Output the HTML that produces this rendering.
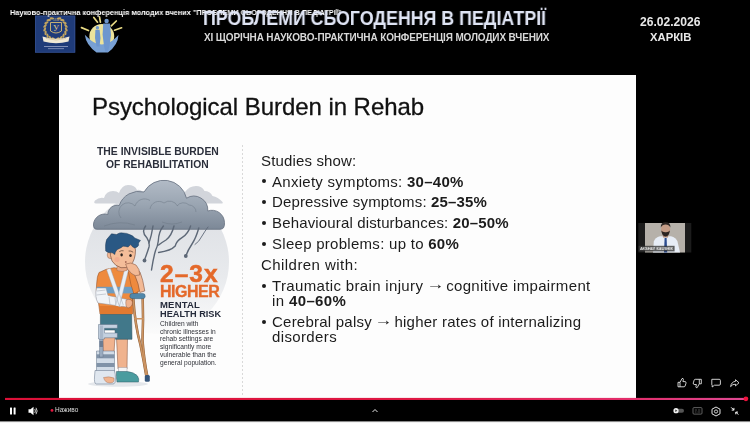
<!DOCTYPE html>
<html>
<head>
<meta charset="utf-8">
<style>
html,body{margin:0;padding:0;}
body{width:750px;height:423px;background:#000;position:relative;overflow:hidden;font-family:"Liberation Sans",sans-serif;}
.a{position:absolute;white-space:nowrap;line-height:1;will-change:transform;}
#slide{position:absolute;left:59px;top:75px;width:577px;height:323px;background:#fdfdfd;}
.li{position:absolute;white-space:nowrap;line-height:1;will-change:transform;font-size:15px;letter-spacing:0.15px;color:#1c1c1c;}
.li b{font-weight:bold;}
.bu{position:absolute;width:4px;height:4px;border-radius:50%;background:#1c1c1c;left:262px;}
svg{position:absolute;left:0;top:0;}
</style>
</head>
<body>
<div id="slide"></div>
<svg width="750" height="423" viewBox="0 0 750 423">
<defs>
<linearGradient id="cg" x1="0" y1="0" x2="0" y2="1"><stop offset="0" stop-color="#b2bbc6"/><stop offset="0.5" stop-color="#9aa5b2"/><stop offset="1" stop-color="#7c8897"/></linearGradient>
<radialGradient id="bgc" cx="0.5" cy="0.25" r="0.75"><stop offset="0" stop-color="#d9dce1"/><stop offset="0.7" stop-color="#e6e8eb"/><stop offset="1" stop-color="#f6f7f8"/></radialGradient>
<linearGradient id="bgl" x1="0" y1="0" x2="0" y2="1"><stop offset="0" stop-color="#dadde2"/><stop offset="0.6" stop-color="#e8eaed"/><stop offset="1" stop-color="#fbfbfb"/></linearGradient>
<linearGradient id="pb" x1="0" y1="0" x2="1" y2="0"><stop offset="0" stop-color="#dc1038"/><stop offset="0.55" stop-color="#df1844"/><stop offset="0.85" stop-color="#e32e6c"/><stop offset="1" stop-color="#df4a94"/></linearGradient>
</defs>
<!-- logo 1 -->
<rect x="35" y="15.5" width="40.3" height="37.2" fill="#1f3b79"/>
<rect x="35.5" y="16" width="39.3" height="36.2" fill="none" stroke="#3a5594" stroke-width="0.6"/>
<g fill="#c0a35f"><ellipse cx="53.62" cy="39.14" rx="2.3" ry="1.1" transform="rotate(220.0 53.62 39.14)"/><ellipse cx="50.31" cy="37.97" rx="2.3" ry="1.1" transform="rotate(238.8 50.31 37.97)"/><ellipse cx="47.54" cy="35.80" rx="2.3" ry="1.1" transform="rotate(257.5 47.54 35.80)"/><ellipse cx="45.61" cy="32.85" rx="2.3" ry="1.1" transform="rotate(276.2 45.61 32.85)"/><ellipse cx="44.74" cy="29.44" rx="2.3" ry="1.1" transform="rotate(295.0 44.74 29.44)"/><ellipse cx="45.01" cy="25.93" rx="2.3" ry="1.1" transform="rotate(313.8 45.01 25.93)"/><ellipse cx="46.39" cy="22.70" rx="2.3" ry="1.1" transform="rotate(332.5 46.39 22.70)"/><ellipse cx="48.74" cy="20.08" rx="2.3" ry="1.1" transform="rotate(351.2 48.74 20.08)"/><ellipse cx="51.81" cy="18.35" rx="2.3" ry="1.1" transform="rotate(370.0 51.81 18.35)"/><ellipse cx="57.38" cy="39.14" rx="2.3" ry="1.1" transform="rotate(-40.0 57.38 39.14)"/><ellipse cx="60.69" cy="37.97" rx="2.3" ry="1.1" transform="rotate(-58.7 60.69 37.97)"/><ellipse cx="63.46" cy="35.80" rx="2.3" ry="1.1" transform="rotate(-77.5 63.46 35.80)"/><ellipse cx="65.39" cy="32.85" rx="2.3" ry="1.1" transform="rotate(-96.2 65.39 32.85)"/><ellipse cx="66.26" cy="29.44" rx="2.3" ry="1.1" transform="rotate(-115.0 66.26 29.44)"/><ellipse cx="65.99" cy="25.93" rx="2.3" ry="1.1" transform="rotate(-133.8 65.99 25.93)"/><ellipse cx="64.61" cy="22.70" rx="2.3" ry="1.1" transform="rotate(-152.5 64.61 22.70)"/><ellipse cx="62.26" cy="20.08" rx="2.3" ry="1.1" transform="rotate(-171.3 62.26 20.08)"/><ellipse cx="59.19" cy="18.35" rx="2.3" ry="1.1" transform="rotate(-190.0 59.19 18.35)"/></g>
<path d="M50.5 22.5 L61.5 22.5 L61.5 31 Q56 35 50.5 31Z" fill="#223f7f" stroke="#d8bb72" stroke-width="0.9"/>
<text x="56" y="30.8" font-family="Liberation Serif" font-size="8.5" fill="#e4cd86" text-anchor="middle">У</text>
<text x="56" y="20.5" font-family="Liberation Sans" font-size="2.6" fill="#d8bb72" text-anchor="middle">1834</text>
<path d="M42.5 36.5 Q56 41 69.5 36.5 L68.5 41.5 Q56 45 43.5 41.5 Z" fill="#f1e9d6"/>
<path d="M46 38.5 Q56 41.5 66 38.5" stroke="#c9b27a" stroke-width="0.5" fill="none"/>
<rect x="44" y="46" width="24" height="0.9" fill="#8d9ac0"/>
<rect x="48" y="48.3" width="16" height="0.8" fill="#8d9ac0"/>
<!-- logo 2 -->
<g stroke="#e8da84" stroke-width="1.7" stroke-linecap="round">
<line x1="81.5" y1="27.6" x2="88.5" y2="30.5"/><line x1="93.8" y1="17.4" x2="97.5" y2="22.2"/><line x1="99.5" y1="16.8" x2="100.4" y2="22.2"/><line x1="116.3" y1="21" x2="111.3" y2="25.8"/><line x1="121.6" y1="27.8" x2="114.5" y2="30.2"/>
</g>
<circle cx="101.8" cy="36.3" r="12.4" fill="#ece39c"/>
<path d="M84.8 34.8 Q86 45 96.5 52.5 L108 52.5 Q118 45 118.5 35 Q115 38.5 112.5 40.5 Q108 44 101.8 44.5 Q95.5 44 91 40.5 Q87.5 37.5 84.8 34.8Z" fill="#78a0d4"/>
<circle cx="106.6" cy="21" r="2.2" fill="#6d96cf"/>
<path d="M103.2 23.6 L110 23.6 L111 35 L109.5 46 L108 51.6 L105.2 51.6 L104 46 L102.6 35Z" fill="#6d96cf"/>
<circle cx="97.4" cy="27.7" r="1.7" fill="#6d96cf"/>
<path d="M95.4 29.7 L99.6 29.7 L100.5 38 L99.5 46.4 L96.5 46.4 L95 38Z" fill="#6d96cf"/>

<!-- infographic background circle -->
<circle cx="157" cy="262" r="72" fill="url(#bgl)"/>
<!-- back clouds -->
<g fill="#d2d5db">
<path d="M96 203.5 Q93 203.5 95 200.5 Q99 197 104 198 Q106 191 113 191 Q117 191 119 193 Q122 185 128 185 Q135 185 137 190 Q141 189 143 193 L143 203.5Z"/>
<path d="M185 203.5 L185 192 Q189 186 196 186 Q202 186 204.5 191 Q210 191 212.5 196 Q218 197 222.5 202 Q223.5 203.5 221 203.5Z"/>
</g>
<!-- main cloud -->
<path d="M97 229.3 Q93 229.3 93.5 224 A11.2 11.2 0 0 1 107.8 214.5 A9.3 9.3 0 0 1 119.2 205.5 A20.8 20.8 0 0 1 144 192 A23 23 0 0 1 186.5 198.2 A14 14 0 0 1 207.8 211 A12.5 12.5 0 0 1 224.5 222.5 Q225 229.3 220 229.3 Z" fill="url(#cg)" stroke="#5f6a79" stroke-width="0.75"/>
<g fill="none" stroke="#6f7a88" stroke-width="0.6" opacity="0.85">
<path d="M121 218 A9 9 0 0 1 135 206 A10 10 0 0 1 150 200.5"/>
<path d="M150 209 A9 9 0 0 1 164 203 A9 9 0 0 1 177.5 206"/>
<path d="M177 206 A8 8 0 0 1 189 205 A7 7 0 0 1 196 212"/>
<path d="M104 226 Q120 220 135 225"/>
<path d="M162 222 Q172 226 182 222"/>
</g>
<!-- rain lines -->
<g fill="none" stroke="#5d6877" stroke-width="1.4" stroke-linecap="round" stroke-linejoin="round">
<path d="M145.6 226 Q141 232 146.8 237.7 Q150 243 149 247 Q147.5 252 144.5 260"/>
<path d="M153 226 Q151.5 236 149 243"/>
<path d="M163.4 226 Q158.5 232 158.3 241 Q157.5 247 155.7 250 Q153.5 257 151.5 270"/>
<path d="M174 226 Q171.5 236 166 240 Q161 243 158.6 245"/>
<path d="M190.6 226 Q188 234 182 237.7 Q176.5 241 175.2 246 Q171 250.7 158.6 252.5"/>
<path d="M198.8 228 Q196 238 192 244 Q188 250 185.8 256"/>
<path d="M208 227 Q205 231 202 236 Q199 242 195 244.5" stroke-width="0.9"/>
</g>
<g fill="#5d6877"><circle cx="144.5" cy="260.5" r="1.9"/><circle cx="185.8" cy="256" r="1.9"/></g>

<!-- boy -->
<ellipse cx="118" cy="384" rx="30" ry="2.8" fill="#e4e7eb"/>
<!-- crutch -->
<g stroke="#8a5a33" stroke-width="2.5" fill="none" stroke-linecap="round">
<path d="M133.3 298.6 Q135 325 140.5 345 Q144 362 146.3 376"/>
<path d="M142.7 298.6 Q143.5 320 142.5 340 Q144 360 147.3 376"/>
</g>
<g stroke="#cc9462" stroke-width="1.6" fill="none" stroke-linecap="round">
<path d="M133.3 298.6 Q135 325 140.5 345 Q144 362 146.3 376"/>
<path d="M142.7 298.6 Q143.5 320 142.5 340 Q144 360 147.3 376"/>
<path d="M134.6 318.7 L143.2 318.7"/>
</g>
<rect x="144.8" y="375" width="5" height="6.8" rx="1.5" fill="#35557a"/>
<!-- legs -->
<path d="M116.5 338 L127.5 338 L127 369 L118 369 Z" fill="#f0b38e" stroke="#7a4a36" stroke-width="0.5"/>
<path d="M102.5 337 L115 337 L114 353 L103.5 353 Z" fill="#f0b38e" stroke="#7a4a36" stroke-width="0.5"/>
<!-- sock & shoe -->
<rect x="118.2" y="367.5" width="8.8" height="5.5" fill="#f4f5f7" stroke="#8a8f99" stroke-width="0.4"/>
<path d="M116.5 371.5 L127 371.5 Q134 372 137.5 376 Q139.5 379 138.5 382 L117 382 Q115.8 376 116.5 371.5Z" fill="#4a9c9f" stroke="#2f5a66" stroke-width="0.5"/>
<!-- brace -->
<path d="M96.5 351 L114.5 351 L114.5 373 L96.5 373 Z" fill="#d2dce7" stroke="#5e6f85" stroke-width="0.5"/>
<rect x="96.5" y="354.3" width="18" height="4" fill="#8193a8"/>
<rect x="96.5" y="363" width="18" height="4" fill="#8193a8"/>
<path d="M95 370.5 L114.5 370.5 Q115.5 374 115.5 379 Q115.5 384 113 384 L96 384 Q94 383 94.5 377 Z" fill="#e0e7ef" stroke="#5e6f85" stroke-width="0.5"/>
<path d="M103.5 377.5 Q109 376 114 378 Q115 383 110 383 Q105 383 103.5 377.5Z" fill="#f0b38e" stroke="#7a4a36" stroke-width="0.3"/>
<rect x="99.5" y="337" width="3.5" height="20" fill="#9aabbf" stroke="#5e6f85" stroke-width="0.4"/>
<rect x="99.5" y="341" width="3.5" height="6" fill="#6b7d93"/>
<!-- shorts -->
<path d="M100.4 313 L131.6 313 L132 339.3 L115.6 339.3 L115 330 L100.4 330 Z" fill="#41788a" stroke="#2d4d5c" stroke-width="0.5"/>
<!-- brace upper cuff -->
<g fill="#c4d1e0" stroke="#56677d" stroke-width="0.45">
<path d="M98.5 324.5 L117.4 324.5 L117.4 328.3 L104.5 328.3 L104.5 333 L117.4 333 L117.4 337.8 L104.5 337.8 L104.5 339 L98.5 339 Z"/>
</g>
<rect x="99.8" y="325.5" width="3.4" height="12.5" fill="#a9b8ca"/>
<!-- shirt -->
<path d="M99 272.5 Q106 268.5 114 267.7 L127 269.5 Q131 271 133 275 L138 285 L138 293 L132.5 298 L132.5 314 L100 314 L98.5 303 Q95.5 296 96.6 284 Q97 276 99 272.5Z" fill="#ee8a3e" stroke="#8a4a22" stroke-width="0.5"/>
<rect x="97" y="286.8" width="36" height="6.6" fill="#6d9dc2"/>
<rect x="100" y="306" width="32.5" height="8" fill="#e17a30"/>
<!-- right arm (upper) -->
<path d="M128 270 Q135 272 138.5 280 L141 290 L134 294 L131 285Z" fill="#ee8a3e" stroke="#8a4a22" stroke-width="0.5"/>
<!-- blue crutch handle -->
<rect x="129.8" y="293.5" width="15.4" height="5.2" rx="2.4" fill="#4f87aa" stroke="#2e4d66" stroke-width="0.4"/>
<!-- forearm to chin -->
<path d="M133 271 Q137 268 140 272 Q143 279 144.8 291 L139.8 292.5 Q138.5 283 135.5 277Z" fill="#f2b995" stroke="#6a3e2c" stroke-width="0.5"/>
<!-- cast arm -->
<path d="M96.5 288 Q94.5 297 98 303 L127 307 Q132 305 130 300 L108 295.5 L106 288 Z" fill="#f1f4f8" stroke="#8c939e" stroke-width="0.5"/>
<path d="M97 291 L105.5 290 M96.5 295 L106 294 M109 297 L110 305 M115 298 L116 305.5 M121 299 L122 306.5" stroke="#a9b0ba" stroke-width="0.6"/>
<path d="M126 300 Q131 298 132.5 302 Q132.5 307 128 308 Q125 307 126 300Z" fill="#f0b38e" stroke="#7a4a36" stroke-width="0.4"/>
<!-- sling straps -->
<path d="M108.5 269 L121.5 306" stroke="#e9eff6" stroke-width="4"/>
<path d="M126.5 269.7 L117.5 306" stroke="#e9eff6" stroke-width="4"/>
<path d="M106.6 269.7 L119.6 306.7 M110.4 268.3 L123.4 305.3 M124.6 269.2 L115.6 305.5 M128.4 270.2 L119.4 306.5" stroke="#8e98a5" stroke-width="0.4"/>
<!-- neck -->
<path d="M117 262 L127 262 L127 270.5 Q122 272.5 117 270.5Z" fill="#eaa984" stroke="#7a4a36" stroke-width="0.3"/>
<!-- head -->
<circle cx="111" cy="255" r="3.8" fill="#f2b995" stroke="#7a4a36" stroke-width="0.4"/>
<path d="M110 249 Q110 240 122 240 Q135 240 135.5 250 Q135.5 260 130.5 265.5 Q126 268.5 121 267.7 Q115 266 112 261 Q110 256 110 249Z" fill="#f4bd99" stroke="#5e3626" stroke-width="0.55"/>
<circle cx="117" cy="259.5" r="2.6" fill="#f0a088" opacity="0.55"/>
<path d="M105.7 251 Q105 244 106.6 239.6 L111.5 233.8 L116.5 234.5 Q120 232 123 233 Q127 233 129.7 234.6 Q133 235.5 134.7 238 L140.5 240.4 L138.5 243 Q139 246 138 246.2 Q136 248 134.7 247.9 Q132 247 130.6 244.6 Q129 246.5 128 247 Q125 246 123 246.2 Q121 248 119 248.7 Q117 249.5 116.5 250.4 Q115 252 114.8 254.5 Q112 252 109.9 252.8 Q107.5 252.5 105.7 251Z" fill="#2a5884" stroke="#17324f" stroke-width="0.45"/>
<ellipse cx="121.6" cy="254.8" rx="1.25" ry="1.6" fill="#2b2320"/>
<ellipse cx="130.5" cy="255.5" rx="1.25" ry="1.6" fill="#2b2320"/>
<path d="M119.3 251.6 Q121.5 250.2 123.6 250.8 M128.6 251 Q131 250.6 133.2 252.2" stroke="#3b2a22" stroke-width="0.6" fill="none"/>
<ellipse cx="125.8" cy="262" rx="0.9" ry="0.7" fill="#8a4a3a"/>
<!-- hand on chin -->
<path d="M125.6 264 Q131 261.5 136 265 Q140 269 139.7 275 Q135 277 131.5 273.5 Q127 270 125.6 264Z" fill="#f2b995" stroke="#7a4a36" stroke-width="0.5"/>
<!-- dashed separator -->
<line x1="242.5" y1="145" x2="242.5" y2="395" stroke="#c9c9c9" stroke-width="0.7" stroke-dasharray="2 2"/>

<!-- webcam -->
<rect x="638.3" y="223" width="53" height="29.5" fill="#1c1c1c"/>
<rect x="645" y="223" width="40" height="29.5" fill="#b6b1aa"/>
<path d="M653 252.5 L653.8 241.5 Q655 237.5 660 236.2 L671 236.2 Q676 237.5 677.5 241.5 L680 252.5Z" fill="#e7edf6"/>
<path d="M664.6 238 L666.6 238 L667.2 252.5 L664 252.5Z" fill="#2a4b8f"/>
<path d="M662.5 233 L668.5 233 L668 237.5 L663 237.5Z" fill="#b08a76"/>
<ellipse cx="665.6" cy="229.3" rx="4.6" ry="5.8" fill="#c49c86"/>
<path d="M661.3 230.5 Q662 236.3 665.6 236.6 Q669.2 236.3 669.9 230.5 Q668.5 232.5 665.6 232.3 Q662.7 232.5 661.3 230.5Z" fill="#2b2421"/>
<path d="M660.8 227.5 Q660.5 222.3 665.6 222.3 Q670.7 222.3 670.4 227.5 Q669 224.5 665.6 224.5 Q662.2 224.5 660.8 227.5Z" fill="#2a2421"/>
<rect x="638.7" y="245.8" width="35.9" height="5.6" fill="#3a3a3a" opacity="0.8"/>
<!-- bottom progress -->
<rect x="5" y="397.9" width="741" height="2.1" fill="url(#pb)"/>
<circle cx="745.9" cy="398.8" r="2.4" fill="#f0123c"/>
<!-- controls -->
<g fill="#fff">
<rect x="10" y="407.5" width="2" height="7" rx="0.5"/><rect x="13.6" y="407.5" width="2" height="7" rx="0.5"/>
<path d="M28.5 409.3 L30.5 409.3 L33.5 406.8 L33.5 415.2 L30.5 412.7 L28.5 412.7Z"/>
</g>
<path d="M34.8 409 Q36 411 34.8 413 M36 407.8 Q38.3 411 36 414.2" stroke="#fff" stroke-width="0.8" fill="none"/>
<circle cx="52" cy="410.4" r="1.4" fill="#e3163f"/>
<path d="M372.5 412 L375 409.5 L377.5 412" stroke="#fff" stroke-width="0.9" fill="none"/>
<!-- right controls -->
<rect x="674" y="408.7" width="10" height="4" rx="2" fill="#555"/>
<circle cx="676" cy="410.7" r="2.6" fill="#f0f0f0"/>
<path d="M675.3 409.5 L677.3 410.7 L675.3 411.9Z" fill="#333"/>
<rect x="693" y="407.6" width="9" height="6.5" rx="1" fill="none" stroke="#777" stroke-width="0.8"/>
<path d="M694.8 410 L697 410 M698 410 L700.3 410 M694.8 412 L696.5 412 M697.5 412 L700.3 412" stroke="#777" stroke-width="0.6"/>
<path d="M716 407 L720 409.2 L720 413.8 L716 416 L712 413.8 L712 409.2Z" fill="none" stroke="#fff" stroke-width="0.9"/>
<circle cx="716" cy="411.5" r="1.6" fill="none" stroke="#fff" stroke-width="0.8"/>
<path d="M731.2 407.4 L733.9 410.1 M733.9 407.9 L733.9 410.1 L731.7 410.1 M738.3 414.6 L735.8 412.1 M735.8 414.3 L735.8 412.1 L738 412.1" stroke="#fff" stroke-width="1" fill="none"/>
<!-- like/dislike/comment/share -->
<g stroke="#fff" stroke-width="0.8" fill="none" stroke-linejoin="round">
<path d="M678 382.3 L678 386.8 L680 386.8 L680 382.3 Z M680 382.3 L682.1 378.5 Q683.3 378 683.4 379.4 L682.9 381.6 L685.2 381.6 Q686.4 381.9 686 383.2 L685.1 386 Q684.8 386.8 684 386.8 L680 386.8"/>
<path d="M701.3 383.8 L701.3 379.3 L699.3 379.3 L699.3 383.8 Z M699.3 383.8 L697.2 387.6 Q696 388.1 695.9 386.7 L696.4 384.5 L694.1 384.5 Q692.9 384.2 693.3 382.9 L694.2 380.1 Q694.5 379.3 695.3 379.3 L699.3 379.3"/>
<path d="M711.8 379.3 L719.2 379.3 Q720.4 379.3 720.4 380.5 L720.4 384 Q720.4 385.2 719.2 385.2 L714.5 385.2 L712.2 387 L712.2 385.2 Q711.8 385.2 711.8 384.5 Z"/>
<path d="M735.5 379.7 L739 382.8 L735.5 385.9 L735.5 384.2 Q732.5 384 730.6 386.6 Q731.3 381.9 735.5 381.3 Z"/>
</g>
</svg>

<!-- top header -->
<div class="a" id="ytitle" style="left:10px;top:9.4px;font-size:8px;font-weight:bold;color:#fff;transform:scaleX(0.918);transform-origin:0 0;text-shadow:0 0 1.5px rgba(0,0,0,0.6);">Науково-практична конференція молодих вчених "ПРОБЛЕМИ СЬОГОДЕННЯ В ПЕДІАТРІЇ"</div>
<div class="a" id="bigtitle" style="left:203px;top:8.5px;font-size:19.5px;font-weight:bold;color:#dfe4f4;transform:scaleX(0.913);transform-origin:0 0;">ПРОБЛЕМИ СЬОГОДЕННЯ В ПЕДІАТРІЇ</div>
<div class="a" id="subtitle" style="left:204px;top:33.2px;font-size:10px;letter-spacing:-0.14px;font-weight:bold;color:#d9d9d9;">XI ЩОРІЧНА НАУКОВО-ПРАКТИЧНА КОНФЕРЕНЦІЯ МОЛОДИХ ВЧЕНИХ</div>
<div class="a" id="date" style="left:640.3px;top:16.1px;font-size:12.1px;font-weight:bold;color:#e8e8e8;">26.02.2026</div>
<div class="a" id="city" style="left:650px;top:32.3px;font-size:11.3px;font-weight:bold;color:#e8e8e8;">ХАРКІВ</div>

<!-- slide title -->
<div class="a" id="stitle" style="left:92px;top:94.5px;font-size:24px;letter-spacing:-0.05px;color:#111;-webkit-text-stroke:0.3px #111;">Psychological Burden in Rehab</div>

<!-- right list -->
<div class="li" id="l1" style="left:261px;top:152.8px;">Studies show:</div>
<div class="bu" style="top:179.3px;"></div>
<div class="li" id="l2" style="left:272px;top:173.5px;letter-spacing:0.275px;">Anxiety symptoms: <b>30–40%</b></div>
<div class="bu" style="top:200px;"></div>
<div class="li" id="l3" style="left:272px;top:194.2px;">Depressive symptoms: <b>25–35%</b></div>
<div class="bu" style="top:221.1px;"></div>
<div class="li" id="l4" style="left:272px;top:215.3px;">Behavioural disturbances: <b>20–50%</b></div>
<div class="bu" style="top:241.5px;"></div>
<div class="li" id="l5" style="left:272px;top:235.7px;letter-spacing:0.28px;">Sleep problems: up to <b>60%</b></div>
<div class="li" id="l6" style="left:261px;top:257.2px;letter-spacing:0.44px;">Children with:</div>
<div class="bu" style="top:284px;"></div>
<div class="li" id="l7" style="left:272px;top:278.2px;letter-spacing:0.345px;">Traumatic brain injury <span style="display:inline-block;position:relative;top:-2px;transform:scaleX(1.2);margin-right:-1.5px">→</span> cognitive impairment</div>
<div class="li" id="l8" style="left:272px;top:293px;letter-spacing:0.37px;">in <b>40–60%</b></div>
<div class="bu" style="top:320px;"></div>
<div class="li" id="l9" style="left:272px;top:314.2px;letter-spacing:0.23px;">Cerebral palsy <span style="display:inline-block;position:relative;top:-2px;transform:scaleX(1.2);margin-right:-1.5px">→</span> higher rates of internalizing</div>
<div class="li" id="l10" style="left:272px;top:329px;letter-spacing:0.37px;">disorders</div>

<!-- infographic text -->
<div class="a" id="ih1" style="left:96.5px;top:147px;font-size:10.4px;font-weight:bold;color:#2b2f3b;">THE INVISIBLE BURDEN</div>
<div class="a" id="ih2" style="left:105.5px;top:160.2px;font-size:10.3px;font-weight:bold;color:#2b2f3b;">OF REHABILITATION</div>
<div class="a" id="n1" style="left:160px;top:261.5px;font-size:24.5px;letter-spacing:1.0px;font-weight:bold;color:#e4692a;-webkit-text-stroke:0.5px #e4692a;">2–3x</div>
<div class="a" id="n2" style="left:160px;top:284px;font-size:16px;letter-spacing:-0.5px;font-weight:bold;color:#e4692a;-webkit-text-stroke:0.35px #e4692a;">HIGHER</div>
<div class="a" id="n3" style="left:160px;top:299.6px;font-size:9.5px;letter-spacing:0.2px;font-weight:bold;color:#252b3b;">MENTAL</div>
<div class="a" id="n4" style="left:160px;top:309.8px;font-size:9.2px;font-weight:bold;color:#252b3b;">HEALTH RISK</div>
<div class="a" id="n5" style="left:160px;top:320.2px;font-size:6.65px;color:#2f3138;line-height:7.72px;">Children with<br>chronic illnesses in<br>rehab settings are<br>significantly more<br>vulnerable than the<br>general population.</div>

<div style="position:absolute;left:0;top:421px;width:750px;height:1px;background:#8a8a8a;"></div><div style="position:absolute;left:0;top:422px;width:750px;height:1px;background:#f2f2f2;"></div>
<div class="a" id="camlabel" style="left:640px;top:246.6px;font-size:4.2px;font-weight:bold;color:#eee;transform:scaleX(0.88);transform-origin:0 0;">AKSHAY KAUSHIK</div>
<div class="a" id="live" style="left:55px;top:406.5px;font-size:6.5px;color:#ddd;">Наживо</div>
</body>
</html>
